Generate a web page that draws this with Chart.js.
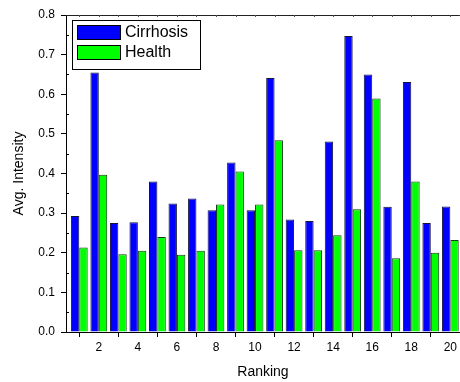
<!DOCTYPE html>
<html><head><meta charset="utf-8">
<script src="https://cdn.jsdelivr.net/npm/chart.js@4.4.0/dist/chart.umd.min.js"></script>
<style>html,body{margin:0;padding:0;background:#fff}#wrap{width:460px;height:382px}</style>
</head><body><div id="wrap"><canvas id="c" width="460" height="382"></canvas></div>
<script>
const categories = [1,2,3,4,5,6,7,8,9,10,11,12,13,14,15,16,17,18,19,20];
const cirrhosis = [0.293,0.655,0.275,0.277,0.380,0.324,0.337,0.307,0.428,0.307,0.641,0.284,0.280,0.481,0.747,0.650,0.316,0.631,0.275,0.317];
const health    = [0.213,0.397,0.196,0.205,0.240,0.195,0.205,0.322,0.405,0.322,0.484,0.206,0.206,0.244,0.310,0.589,0.186,0.380,0.200,0.232];
const seriesNames = ['Cirrhosis','Health'];
const xTickLabels = ['2','4','6','8','10','12','14','16','18','20'];
const yTickLabels = ['0.0','0.1','0.2','0.3','0.4','0.5','0.6','0.7','0.8'];
const yMinorTicks = [0.05,0.15,0.25,0.35,0.45,0.55,0.65,0.75];
const xTitle = 'Ranking';
const yTitle = 'Avg. Intensity';

const FONT = "'Liberation Sans', Arial, sans-serif";

const decor = {
  id: 'decor',
  afterDraw(chart) {
    const ctx = chart.ctx, a = chart.chartArea;
    const xs = chart.scales.x, ys = chart.scales.y;
    ctx.save();
    ctx.strokeStyle = '#222'; ctx.lineWidth = 1;
    ctx.beginPath(); ctx.moveTo(a.left, a.top + 0.5); ctx.lineTo(a.right, a.top + 0.5); ctx.stroke();
    ctx.strokeStyle = '#555';
    ctx.beginPath();
    categories.forEach(v => { const px = Math.round(xs.getPixelForValue(v)) + 0.5; ctx.moveTo(px, a.top); ctx.lineTo(px, a.top + 2); });
    ctx.stroke();
    ctx.strokeStyle = '#000';
    ctx.beginPath();
    yMinorTicks.forEach(v => { const py = Math.round(ys.getPixelForValue(v)) + 0.5; ctx.moveTo(a.left, py); ctx.lineTo(a.left + 3, py); });
    ctx.stroke();
    const ds = chart.data.datasets;
    const bx = 72, by = 20, bw = 128, bh = 49;
    ctx.fillStyle = '#fff'; ctx.fillRect(bx, by, bw, bh);
    ctx.strokeStyle = '#000'; ctx.lineWidth = 1;
    ctx.strokeRect(bx + 0.5, by + 0.5, bw, bh);
    ds.forEach((d, i) => {
      const sy = 25 + i * 20;
      ctx.fillStyle = d.backgroundColor;
      ctx.fillRect(77, sy, 43, 14);
      ctx.strokeStyle = '#000';
      ctx.strokeRect(77.5, sy + 0.5, 43, 14);
      ctx.fillStyle = '#000';
      ctx.font = '16px ' + FONT;
      ctx.textBaseline = 'middle';
      ctx.textAlign = 'left';
      ctx.fillText(d.label, 125, sy + 8);
    });
    ctx.restore();
  }
};

new Chart(document.getElementById('c'), {
  type: 'bar',
  data: {
    datasets: [
      { label: seriesNames[0], data: categories.map((c, i) => ({x: c, y: cirrhosis[i]})), backgroundColor: '#0000FF', borderColor: '#14143c', borderWidth: 1, categoryPercentage: 0.86, barPercentage: 1.0 },
      { label: seriesNames[1], data: categories.map((c, i) => ({x: c, y: health[i]})), backgroundColor: '#00FF00', borderColor: '#143c14', borderWidth: 1, categoryPercentage: 0.86, barPercentage: 1.0 }
    ]
  },
  options: {
    responsive: false,
    animation: false,
    devicePixelRatio: 1,
    layout: { padding: { top: 15, left: 0, right: 0, bottom: 0 } },
    plugins: { legend: { display: false }, tooltip: { enabled: false } },
    scales: {
      x: {
        type: 'linear', min: 0.32, max: 20.49, offset: false,
        afterBuildTicks: s => { s.ticks = xTickLabels.map(v => ({value: Number(v)})); },
        afterFit: s => { s.height = 50; },
        ticks: { callback: (v, i) => xTickLabels[i], font: { family: FONT, size: 12 }, color: '#000', padding: 3, maxRotation: 0, autoSkip: false },
        grid: { drawOnChartArea: false, drawTicks: true, tickLength: 5, tickColor: '#000' },
        border: { display: true, color: '#000', width: 1 },
        title: { display: true, text: xTitle, font: { family: FONT, size: 14 }, color: '#000', padding: { top: 0, bottom: 1 } }
      },
      y: {
        min: 0, max: 0.8,
        afterBuildTicks: s => { s.ticks = yTickLabels.map(v => ({value: Number(v)})); },
        afterFit: s => { s.width = 66; },
        ticks: { callback: (v, i) => yTickLabels[i], font: { family: FONT, size: 12 }, color: '#000', padding: 6 },
        grid: { drawOnChartArea: false, drawTicks: true, tickLength: 5, tickColor: '#000' },
        border: { display: true, color: '#000', width: 1 },
        title: { display: true, text: yTitle, font: { family: FONT, size: 14 }, color: '#000', padding: { top: 11, bottom: 0 } }
      }
    }
  },
  plugins: [decor]
});
</script></body></html>
